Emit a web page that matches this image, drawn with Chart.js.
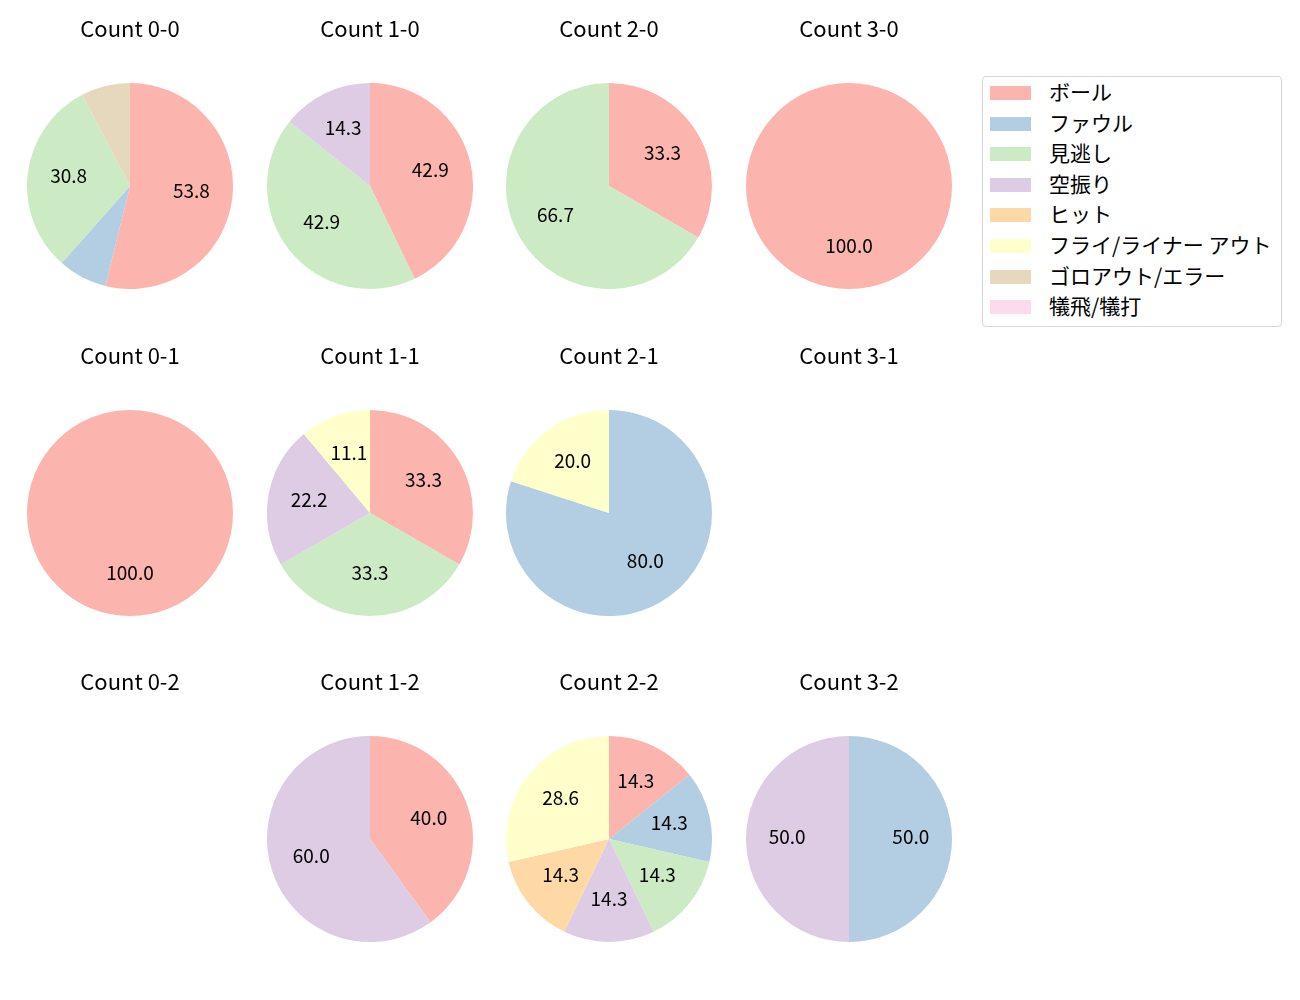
<!DOCTYPE html>
<html>
<head>
<meta charset="utf-8">
<script src="https://cdn.jsdelivr.net/npm/chart.js@4.4.0/dist/chart.umd.min.js"></script>
<style>
  html, body { margin: 0; padding: 0; background: #fff; }
  body { width: 1300px; height: 1000px; position: relative; overflow: hidden;
         font-family: 'Noto Sans CJK JP', 'Noto Sans', sans-serif; }
  canvas.pie { position: absolute; }
  #legend { position: absolute; left: 982px; top: 76px; width: 300px; height: 251px;
            border: 1px solid #d6d6d6; border-radius: 4px; box-sizing: border-box; background: #fff; }
  .item { position: absolute; left: 0; height: 30px; width: 100%; }
  .patch { position: absolute; left: 7px; width: 41px; height: 14px; }
  .lbl { position: absolute; left: 66px; font-size: 21px; line-height: 21px; color: #000; white-space: pre; }
</style>
</head>
<body>
<div id="legend"></div>
<script>
// ---- data ----
const categories = ['ボール', 'ファウル', '見逃し', '空振り', 'ヒット', 'フライ/ライナー アウト', 'ゴロアウト/エラー', '犠飛/犠打'];
const colors = ['#fbb4ae', '#b3cde3', '#ccebc5', '#decbe4', '#fed9a6', '#ffffcc', '#e5d8bd', '#fddaec'];
const titles = ['Count 0-0', 'Count 1-0', 'Count 2-0', 'Count 3-0',
                'Count 0-1', 'Count 1-1', 'Count 2-1', 'Count 3-1',
                'Count 0-2', 'Count 1-2', 'Count 2-2', 'Count 3-2'];
// pitch counts per category (ボール, ファウル, 見逃し, 空振り, ヒット, フライ, ゴロ, 犠飛)
const count00 = [7, 1, 4, 0, 0, 0, 1, 0];
const count10 = [3, 0, 3, 1, 0, 0, 0, 0];
const count20 = [1, 0, 2, 0, 0, 0, 0, 0];
const count30 = [1, 0, 0, 0, 0, 0, 0, 0];
const count01 = [1, 0, 0, 0, 0, 0, 0, 0];
const count11 = [3, 0, 3, 2, 0, 1, 0, 0];
const count21 = [0, 4, 0, 0, 0, 1, 0, 0];
const count31 = [0, 0, 0, 0, 0, 0, 0, 0];
const count02 = [0, 0, 0, 0, 0, 0, 0, 0];
const count12 = [2, 0, 0, 3, 0, 0, 0, 0];
const count22 = [1, 1, 1, 1, 1, 2, 0, 0];
const count32 = [0, 1, 0, 1, 0, 0, 0, 0];
const allCounts = [count00, count10, count20, count30, count01, count11, count21, count31, count02, count12, count22, count32];

// ---- layout ----
const colCenters = [130, 369.5, 609, 849];
const rowTops = [83, 409.5, 736]; // top of pie
const R = 103;
const TITLE_SPACE = 70;
const TITLE_SIZE = 22;
const LABEL_SIZE = 19;
const LABEL_DY = -2.5;
const FONT = "'Noto Sans CJK JP', 'Noto Sans', sans-serif";

const pctLabels = {
  id: 'pctLabels',
  afterDatasetsDraw(chart) {
    const ctx = chart.ctx;
    const ds = chart.data.datasets[0];
    const total = ds.data.reduce((a, b) => a + b, 0);
    if (!total) return;
    const meta = chart.getDatasetMeta(0);
    ctx.save();
    ctx.font = `${LABEL_SIZE}px ${FONT}`;
    ctx.fillStyle = '#000';
    ctx.textAlign = 'center';
    ctx.textBaseline = 'middle';
    meta.data.forEach((arc, i) => {
      const v = ds.data[i];
      if (!v) return;
      const pct = v / total * 100;
      if (pct < 10) return;
      const p = arc.getProps(['x', 'y', 'startAngle', 'endAngle', 'outerRadius'], true);
      const mid = (p.startAngle + p.endAngle) / 2;
      const r = p.outerRadius * 0.6;
      ctx.fillText(pct.toFixed(1), p.x + Math.cos(mid) * r, p.y + Math.sin(mid) * r + LABEL_DY);
    });
    ctx.restore();
  }
};

allCounts.forEach((data, idx) => {
  const col = idx % 4, row = Math.floor(idx / 4);
  const cv = document.createElement('canvas');
  cv.className = 'pie';
  const w = 2 * R, h = 2 * R + TITLE_SPACE;
  cv.width = w; cv.height = h;
  cv.style.width = w + 'px'; cv.style.height = h + 'px';
  cv.style.left = (colCenters[col] - R) + 'px';
  cv.style.top = (rowTops[row] - TITLE_SPACE) + 'px';
  document.body.appendChild(cv);
  const lh = TITLE_SIZE * 1.2;
  const padTop = 15.5 - lh / 2;
  const padBottom = TITLE_SPACE - padTop - lh;
  new Chart(cv, {
    type: 'pie',
    data: {
      labels: categories,
      datasets: [{ data: data, backgroundColor: colors, borderWidth: 0, hoverOffset: 0 }]
    },
    options: {
      responsive: false,
      devicePixelRatio: 1,
      animation: false,
      events: [],
      layout: { padding: 0 },
      plugins: {
        legend: { display: false },
        tooltip: { enabled: false },
        title: {
          display: true, text: titles[idx], color: '#000',
          font: { family: FONT, size: TITLE_SIZE, weight: 'normal', lineHeight: 1.2 },
          padding: { top: padTop, bottom: padBottom }
        }
      }
    },
    plugins: [pctLabels]
  });
});

// ---- legend ----
const leg = document.getElementById('legend');
categories.forEach((c, i) => {
  const it = document.createElement('div');
  it.className = 'item';
  it.style.top = (8 + i * 30.6) + 'px';
  const p = document.createElement('div');
  p.className = 'patch'; p.style.background = colors[i]; p.style.top = '1px';
  const t = document.createElement('div');
  t.className = 'lbl'; t.textContent = c; t.style.top = '-4px';
  it.appendChild(p); it.appendChild(t);
  leg.appendChild(it);
});
</script>
</body>
</html>
